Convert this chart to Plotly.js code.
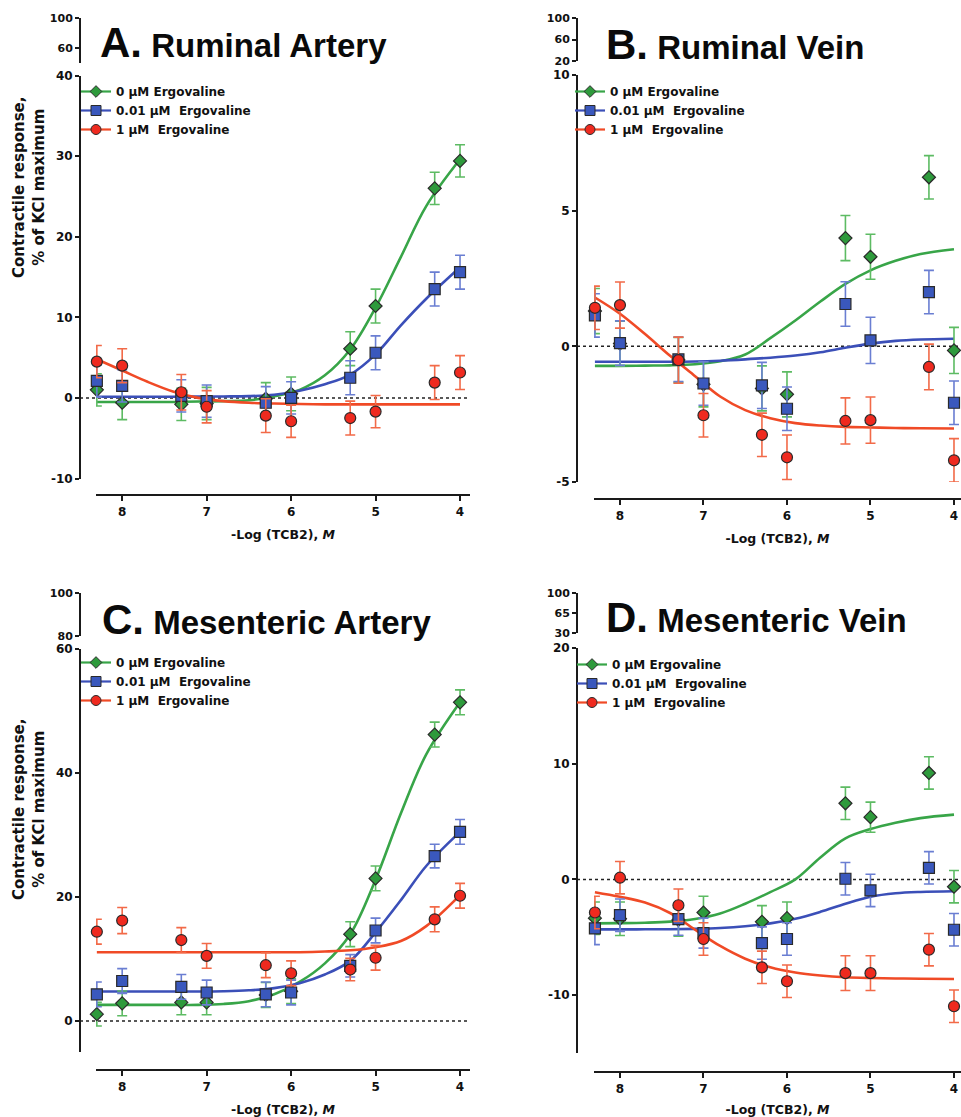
<!DOCTYPE html>
<html>
<head>
<meta charset="utf-8">
<script src="https://cdn.plot.ly/plotly-3.0.1.min.js"></script>
<style>html,body{margin:0;padding:0;background:#fff;}#chart{width:961px;height:1117px;}</style>
</head>
<body>
<div id="chart"></div>
<script>
// ---------- data ----------
const DOSE = [8.3, 8, 7.3, 7, 6.3, 6, 5.3, 5, 4.3, 4];          // -Log (TCB2), M
const FIT_DOSE = [8.3, 8.0, 7.7, 7.4, 7.1, 6.8, 6.5, 6.2, 5.9, 5.6, 5.3, 5.0, 4.7, 4.4, 4.0];
const SERIES = ['0 µM Ergovaline', '0.01 µM\u00a0 Ergovaline', '1 µM\u00a0 Ergovaline'];
const PANEL_TITLES = ['A.', 'B.', 'C.', 'D.'];
const PANEL_NAMES = ['Ruminal Artery', 'Ruminal Vein', 'Mesenteric Artery', 'Mesenteric Vein'];

// A. Ruminal Artery
const A_green = [1.0, -0.6, -0.8, -0.7, -0.1, 0.5, 6.1, 11.4, 26.0, 29.4];
const A_green_sem = [2.0, 2.1, 2.0, 2.0, 2.0, 2.1, 2.1, 2.1, 2.0, 2.0];
const A_blue = [2.1, 1.5, 0.25, -0.4, -0.6, 0.0, 2.5, 5.6, 13.5, 15.6];
const A_blue_sem = [2.0, 2.0, 2.0, 2.0, 2.0, 2.0, 2.1, 2.1, 2.1, 2.1];
const A_red = [4.5, 4.0, 0.7, -1.1, -2.2, -2.9, -2.5, -1.7, 1.9, 3.15];
const A_red_sem = [2.0, 2.1, 2.2, 2.0, 2.1, 2.0, 2.1, 2.0, 2.1, 2.1];
const A_green_fit = [-0.5, -0.5, -0.5, -0.5, -0.45, -0.4, -0.3, 0.2, 1.0, 2.8, 6.0, 11.2, 17.5, 23.8, 29.6];
const A_blue_fit = [0.15, 0.15, 0.15, 0.15, 0.16, 0.18, 0.22, 0.4, 0.9, 1.7, 2.9, 5.4, 9.0, 12.3, 16.2];
const A_red_fit = [4.8, 3.4, 2.0, 0.8, 0.0, -0.4, -0.6, -0.7, -0.75, -0.8, -0.8, -0.8, -0.8, -0.8, -0.8];

// B. Ruminal Vein
const B_green = [1.3, 0.1, -0.5, -1.4, -1.55, -1.77, 3.99, 3.3, 6.23, -0.15];
const B_green_sem = [0.83, 0.83, 0.83, 0.83, 0.83, 0.83, 0.83, 0.83, 0.8, 0.85];
const B_blue = [1.14, 0.12, -0.48, -1.37, -1.44, -2.3, 1.56, 0.22, 2.0, -2.08];
const B_blue_sem = [0.8, 0.82, 0.82, 0.8, 0.85, 0.8, 0.82, 0.85, 0.8, 0.8];
const B_red = [1.42, 1.52, -0.51, -2.54, -3.26, -4.09, -2.75, -2.72, -0.76, -4.2];
const B_red_sem = [0.8, 0.85, 0.85, 0.8, 0.8, 0.82, 0.85, 0.85, 0.84, 0.8];
const B_green_fit = [-0.72, -0.72, -0.71, -0.7, -0.66, -0.55, -0.3, 0.3, 0.95, 1.65, 2.3, 2.8, 3.15, 3.4, 3.58];
const B_blue_fit = [-0.57, -0.57, -0.57, -0.57, -0.56, -0.53, -0.48, -0.42, -0.34, -0.22, -0.05, 0.1, 0.2, 0.25, 0.28];
const B_red_fit = [1.8, 1.2, 0.45, -0.35, -1.1, -1.85, -2.35, -2.65, -2.83, -2.92, -2.97, -2.99, -3.01, -3.02, -3.03];

// C. Mesenteric Artery
const C_green = [1.1, 2.85, 3.0, 3.0, 4.2, 4.8, 14.0, 23.0, 46.2, 51.4];
const C_green_sem = [1.9, 2.0, 2.0, 2.0, 2.0, 2.0, 2.0, 2.0, 2.0, 2.0];
const C_blue = [4.3, 6.45, 5.5, 4.6, 4.3, 4.6, 8.9, 14.6, 26.6, 30.5];
const C_blue_sem = [2.0, 2.0, 2.0, 2.0, 2.0, 2.0, 1.8, 2.0, 1.9, 2.0];
const C_red = [14.4, 16.2, 13.06, 10.5, 9.0, 7.7, 8.3, 10.2, 16.4, 20.2];
const C_red_sem = [2.0, 2.1, 2.0, 2.0, 2.0, 2.0, 1.8, 2.0, 2.0, 2.0];
const C_green_fit = [2.6, 2.6, 2.6, 2.6, 2.6, 2.75, 3.2, 4.3, 6.3, 9.3, 14.0, 22.8, 33.5, 43.0, 51.4];
const C_blue_fit = [4.75, 4.75, 4.75, 4.75, 4.75, 4.8, 4.95, 5.3, 6.1, 7.5, 9.7, 14.3, 19.5, 25.0, 30.5];
const C_red_fit = [11.1, 11.1, 11.1, 11.1, 11.1, 11.1, 11.1, 11.1, 11.1, 11.2, 11.4, 11.9, 12.9, 15.3, 20.3];

// D. Mesenteric Vein
const D_green = [-3.35, -3.4, -3.5, -2.86, -3.66, -3.35, 6.58, 5.38, 9.2, -0.63];
const D_green_sem = [1.4, 1.45, 1.4, 1.4, 1.4, 1.4, 1.4, 1.3, 1.4, 1.4];
const D_blue = [-4.23, -3.09, -3.43, -4.64, -5.5, -5.15, 0.06, -0.95, 1.0, -4.35];
const D_blue_sem = [1.4, 1.4, 1.4, 1.3, 1.4, 1.4, 1.4, 1.4, 1.4, 1.4];
const D_red = [-2.86, 0.15, -2.23, -5.15, -7.6, -8.8, -8.1, -8.1, -6.07, -10.96];
const D_red_sem = [1.4, 1.4, 1.4, 1.4, 1.4, 1.4, 1.5, 1.5, 1.4, 1.4];
const D_green_fit = [-3.8, -3.78, -3.74, -3.65, -3.42, -2.95, -2.1, -1.1, 0.0, 1.9, 3.55, 4.35, 4.9, 5.3, 5.6];
const D_blue_fit = [-4.32, -4.32, -4.31, -4.3, -4.27, -4.2, -4.05, -3.8, -3.4, -2.8, -2.1, -1.5, -1.2, -1.08, -1.02];
const D_red_fit = [-1.1, -1.5, -2.0, -2.9, -4.35, -5.75, -6.85, -7.6, -8.05, -8.3, -8.45, -8.52, -8.56, -8.58, -8.6];

// Broken-axis upper segments: tick labels
const A_UPPER_TICKS = [60, 100];
const B_UPPER_TICKS = [20, 60, 100];
const C_UPPER_TICKS = [80, 100];
const D_UPPER_TICKS = [30, 65, 100];

// ---------- styling ----------
const W = 961, H = 1117;
const fx = p => p / W;
const fy = p => 1 - p / H;
const TICKF = {family: 'DejaVu Sans', size: 12, color: '#111', weight: 'bold'};
const TICKF_UP = {family: 'DejaVu Sans', size: 11, color: '#111', weight: 'bold'};
const STY = [
  {symbol: 'diamond', size: 10, fill: '#2e9a3c', line: '#38a548', err: '#5dbb63'},
  {symbol: 'square', size: 11, fill: '#3a58bd', line: '#3b4fb8', err: '#6a7ed2'},
  {symbol: 'circle', size: 11, fill: '#ef2a1f', line: '#f04a26', err: '#f26a48'}
];

const panels = [
  {x: 'x', y: 'y', yu: 'y2', leg: 'legend', vals: [A_green, A_blue, A_red], sem: [A_green_sem, A_blue_sem, A_red_sem], fit: [A_green_fit, A_blue_fit, A_red_fit]},
  {x: 'x2', y: 'y3', yu: 'y4', leg: 'legend2', vals: [B_green, B_blue, B_red], sem: [B_green_sem, B_blue_sem, B_red_sem], fit: [B_green_fit, B_blue_fit, B_red_fit]},
  {x: 'x3', y: 'y5', yu: 'y6', leg: 'legend3', vals: [C_green, C_blue, C_red], sem: [C_green_sem, C_blue_sem, C_red_sem], fit: [C_green_fit, C_blue_fit, C_red_fit]},
  {x: 'x4', y: 'y7', yu: 'y8', leg: 'legend4', vals: [D_green, D_blue, D_red], sem: [D_green_sem, D_blue_sem, D_red_sem], fit: [D_green_fit, D_blue_fit, D_red_fit]}
];

const traces = [];
panels.forEach(p => {
  // empty trace so the upper (broken) axis segment is drawn
  traces.push({type: 'scatter', mode: 'markers', x: [null], y: [null], xaxis: p.x, yaxis: p.yu,
    showlegend: false, hoverinfo: 'skip'});
  // fitted curves
  p.fit.forEach((f, i) => traces.push({
    type: 'scatter', mode: 'lines', x: FIT_DOSE, y: f, xaxis: p.x, yaxis: p.y,
    line: {color: STY[i].line, width: 2.6, shape: 'spline', smoothing: 1},
    showlegend: false, hoverinfo: 'skip'
  }));
  // data points with SEM
  p.vals.forEach((v, i) => traces.push({
    type: 'scatter', mode: 'markers', x: DOSE, y: v, xaxis: p.x, yaxis: p.y,
    name: SERIES[i], showlegend: false, cliponaxis: false,
    marker: {symbol: STY[i].symbol, size: STY[i].size, color: STY[i].fill, line: {color: '#2a2a2a', width: 1.2}},
    error_y: {type: 'data', array: p.sem[i], visible: true, color: STY[i].err, thickness: 1.6, width: 5}
  }));
  // legend entries (line + marker glyph)
  SERIES.forEach((s, i) => traces.push({
    type: 'scatter', mode: 'lines+markers', x: [null], y: [null], xaxis: p.x, yaxis: p.y,
    name: s, legend: p.leg,
    marker: {symbol: STY[i].symbol, size: STY[i].size - 1, color: STY[i].fill, line: {color: '#2a2a2a', width: 1}},
    line: {color: STY[i].line, width: 2.2}
  }));
});

function xAxis(d0, d1, r0, r1, pos) {
  return {
    domain: [fx(d0), fx(d1)], range: [r0, r1], anchor: 'free', position: fy(pos),
    showline: true, linecolor: '#1a1a1a', linewidth: 2.2, ticks: 'outside', ticklen: 5, tickwidth: 2,
    tickcolor: '#1a1a1a', tickvals: [8, 7, 6, 5, 4], ticktext: ['8', '7', '6', '5', '4'],
    ticklabeloverflow: 'allow',
    showgrid: false, zeroline: false, tickfont: TICKF,
    title: {text: '-Log (TCB2), <i>M</i>', font: {family: 'DejaVu Sans', size: 12.5, color: '#111', weight: 'bold'}, standoff: 12}
  };
}
function yAxis(top, bottom, r0, r1, pos, tv, font) {
  return {
    domain: [fy(bottom), fy(top)], range: [r0, r1], anchor: 'free', position: fx(pos),
    showline: true, linecolor: '#1a1a1a', linewidth: 2.2, ticks: 'outside', ticklen: 4, tickwidth: 2,
    tickcolor: '#1a1a1a', tickvals: tv, ticktext: tv.map(String),
    showgrid: false, zeroline: false, tickfont: font || TICKF
  };
}

function leg(px, py) {
  return {x: fx(px), y: fy(py), xanchor: 'left', yanchor: 'top', bgcolor: 'rgba(0,0,0,0)',
    font: {family: 'DejaVu Sans', size: 12, color: '#111', weight: 'bold'}, tracegroupgap: 0, itemclick: false, itemdoubleclick: false};
}

const TITLEF = {family: 'Liberation Sans', size: 33, color: '#0a0a0a', weight: 'bold'};
function title(i, px, py) {
  return {text: '<span style="font-size:42px">' + PANEL_TITLES[i] + '</span> ' + PANEL_NAMES[i],
    xref: 'paper', yref: 'paper', x: fx(px), y: fy(py), xanchor: 'left', yanchor: 'middle',
    showarrow: false, font: TITLEF};
}
function ytitle(px, py) {
  return {text: 'Contractile response,<br>% of KCl maximum', xref: 'paper', yref: 'paper',
    x: fx(px), y: fy(py), xanchor: 'center', yanchor: 'middle', textangle: -90, showarrow: false,
    font: {family: 'DejaVu Sans', size: 15, color: '#111', weight: 'bold'}};
}
function zeroLine(yref, x0, x1) {
  return {type: 'line', xref: 'paper', yref: yref, x0: fx(x0), x1: fx(x1), y0: 0, y1: 0,
    line: {color: '#222', width: 1.5, dash: 'dot'}, layer: 'below'};
}

const layout = {
  width: W, height: H, margin: {l: 0, r: 0, t: 0, b: 0},
  paper_bgcolor: '#ffffff', plot_bgcolor: 'rgba(0,0,0,0)', showlegend: true,
  font: {family: 'DejaVu Sans', color: '#111'},
  xaxis: xAxis(96, 470, 8.31, 3.882, 495),
  xaxis2: xAxis(594, 961, 8.311, 3.916, 499),
  xaxis3: xAxis(96, 470, 8.31, 3.882, 1070),
  xaxis4: xAxis(594, 961, 8.311, 3.916, 1072),
  yaxis: yAxis(75.5, 478.5, -10, 40, 80, [-10, 0, 10, 20, 30, 40]),
  yaxis2: yAxis(18, 63, 40, 100, 80, A_UPPER_TICKS, TICKF_UP),
  yaxis3: yAxis(75, 482, -5, 10, 577, [-5, 0, 5, 10]),
  yaxis4: yAxis(18, 61, 20, 100, 577, B_UPPER_TICKS, TICKF_UP),
  yaxis5: yAxis(649, 1052, -5, 60, 80, [0, 20, 40, 60]),
  yaxis6: yAxis(593, 636, 80, 100, 80, C_UPPER_TICKS, TICKF_UP),
  yaxis7: yAxis(648, 1053, -15, 20, 577, [-10, 0, 10, 20]),
  yaxis8: yAxis(593, 633, 30, 100, 577, D_UPPER_TICKS, TICKF_UP),
  legend: leg(76, 77),
  legend2: leg(570, 77),
  legend3: leg(76, 648),
  legend4: leg(572, 650),
  annotations: [
    title(0, 98, 43), title(1, 604, 44), title(2, 100, 619), title(3, 604, 617),
    ytitle(29, 188), ytitle(29, 810)
  ],
  shapes: [
    zeroLine('y', 80, 470), zeroLine('y3', 577, 961), zeroLine('y5', 80, 470), zeroLine('y7', 577, 961)
  ]
};

Plotly.newPlot('chart', traces, layout, {displayModeBar: false, staticPlot: true});
</script>
</body>
</html>
